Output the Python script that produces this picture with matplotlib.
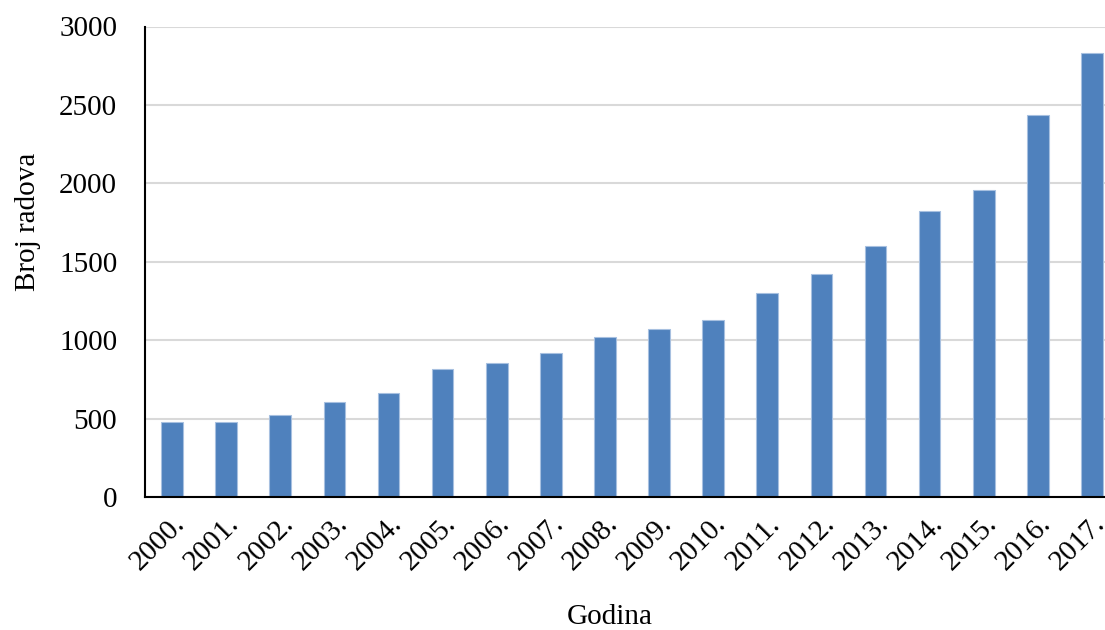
import matplotlib
matplotlib.use("Agg")
import matplotlib.pyplot as plt

years = ["2000.", "2001.", "2002.", "2003.", "2004.", "2005.", "2006.", "2007.", "2008.",
         "2009.", "2010.", "2011.", "2012.", "2013.", "2014.", "2015.", "2016.", "2017."]
counts = [481, 479, 523, 608, 664, 817, 855, 919, 1021,
          1072, 1130, 1302, 1425, 1600, 1825, 1955, 2434, 2828]
yticks = [0, 500, 1000, 1500, 2000, 2500, 3000]

plt.rcParams['font.family'] = ['Liberation Serif', 'DejaVu Serif']

W, H = 1105, 630
fig = plt.figure(figsize=(W / 100, H / 100), dpi=100)
left, right, top, bottom = 145, 1119, 26.5, 497
ax = fig.add_axes([left / W, 1 - bottom / H, (right - left) / W, (bottom - top) / H])

x = list(range(len(years)))
ax.bar(x, counts, width=0.4, color='#4f81bd', edgecolor='#a7c0e0', linewidth=0.8, zorder=3)
ax.set_xlim(-0.5, len(years) - 0.5)
ax.set_ylim(0, 3000)
ax.set_yticks(yticks)
ax.set_yticklabels([str(v) for v in yticks], fontsize=21)
ax.yaxis.grid(True, color='#d9d9d9', linewidth=1.5, zorder=0)
ax.set_axisbelow(True)
ax.set_xticks(x)
ax.set_xticklabels(years, fontsize=21, rotation=45, ha='right', rotation_mode='anchor')
ax.tick_params(axis='x', length=0, pad=10)
ax.tick_params(axis='y', length=0, pad=20)
for s in ['top', 'right']:
    ax.spines[s].set_visible(False)
ax.spines['left'].set_color('black')
ax.spines['left'].set_linewidth(1.5)
ax.spines['bottom'].set_color('black')
ax.spines['bottom'].set_linewidth(1.5)
ax.spines['bottom'].set_zorder(4)

fig.text(610 / W, 1 - 617 / H, "Godina", fontsize=21, ha='center', va='center')
fig.text(28 / W, 1 - 222 / H, "Broj radova", fontsize=21, ha='center', va='center', rotation=90)

fig.savefig("out.png", dpi=100)
